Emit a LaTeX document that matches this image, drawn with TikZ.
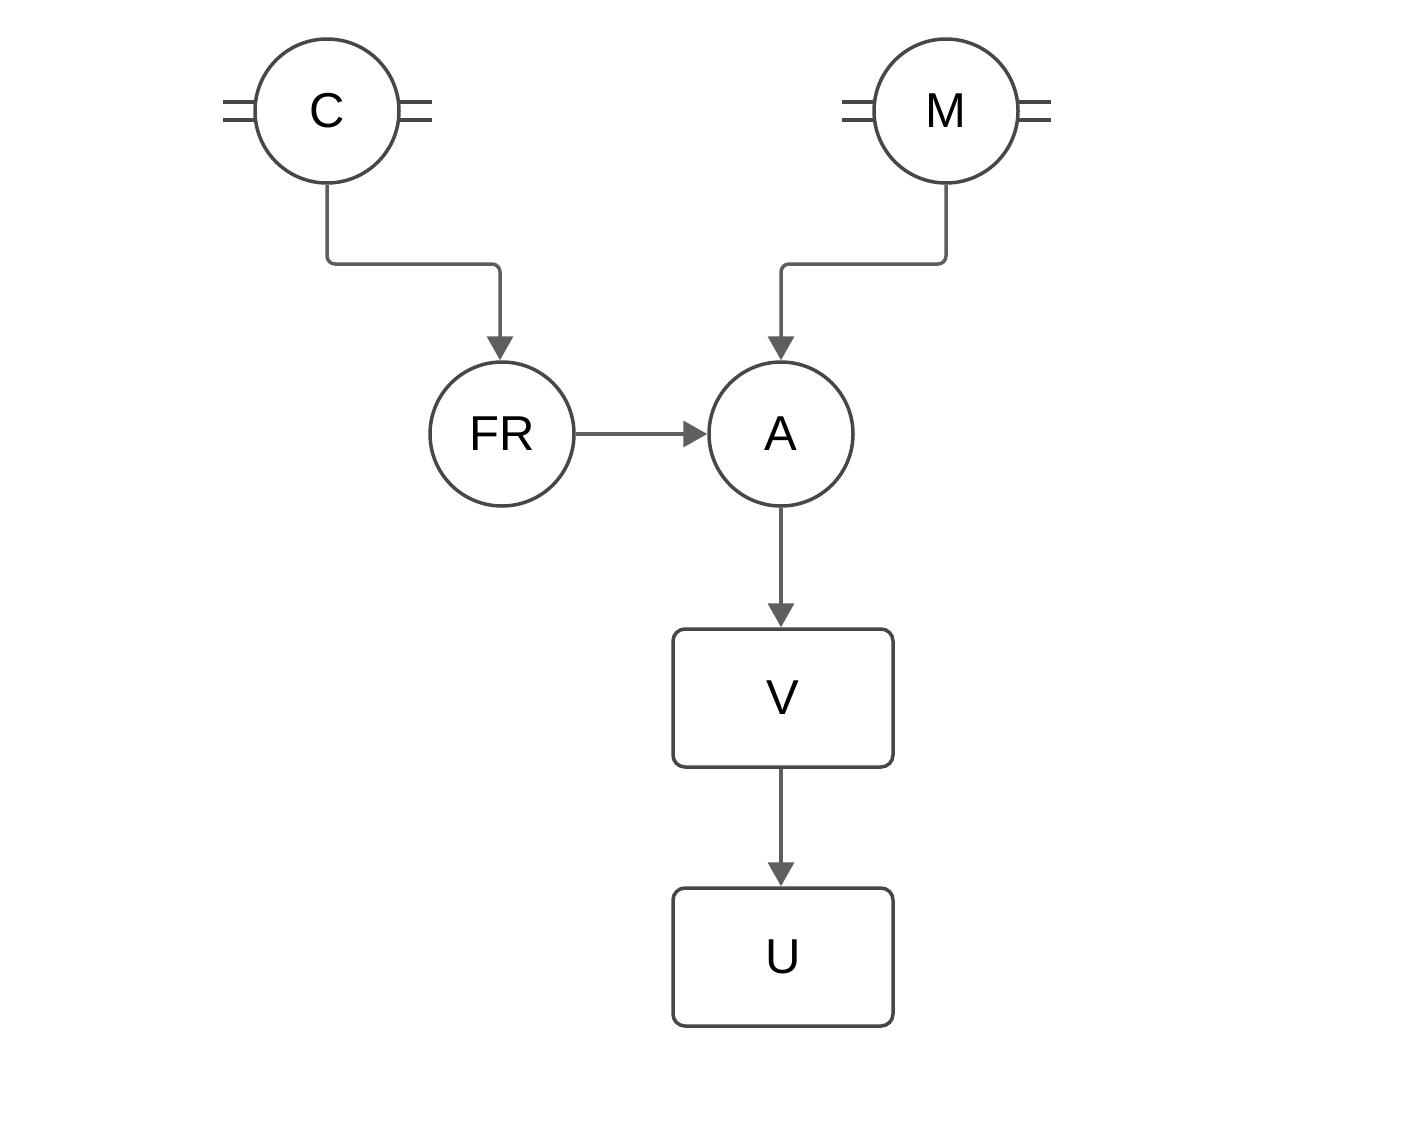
\documentclass[tikz,border=0pt]{standalone}
\usepackage{fontspec}
\setmainfont{Liberation Sans}
\usetikzlibrary{arrows.meta,calc}
\definecolor{edgec}{HTML}{5E5E5E}
\definecolor{nodec}{HTML}{474747}
\begin{document}
\begin{tikzpicture}[x=1pt,y=-1pt,
  circ/.style={circle,draw=nodec,line width=3.5pt,minimum size=144pt,inner sep=0pt,font=\fontsize{49}{58}\selectfont},
  boxn/.style={rectangle,rounded corners=12pt,draw=nodec,line width=3.5pt,minimum width=220pt,minimum height=138pt,inner sep=0pt,font=\fontsize{49}{58}\selectfont},
  conn/.style={draw=edgec,line width=3.5pt,-{Triangle[length=24pt,width=26pt]},rounded corners=8pt},
  bar/.style={draw=nodec,line width=3.5pt}]
\useasboundingbox[fill=white] (0,0) rectangle (1402,1122);
\node[circ] (C) at (327,111) {C};
\node[circ] (M) at (946,111) {M};
\node[circ] (FR) at (502,434) {FR};
\node[circ] (A) at (781,434) {A};
\node[boxn] (V) at (783,698) {V};
\node[boxn] (U) at (783,957) {U};
% double bars
\coordinate (cl1) at (223,102); \coordinate (cl2) at (223,120);
\coordinate (cr1) at (432,102); \coordinate (cr2) at (432,120);
\coordinate (ml1) at (842,102); \coordinate (ml2) at (842,120);
\coordinate (mr1) at (1051,102); \coordinate (mr2) at (1051,120);
\draw[bar] (cl1) -- ($(C.center)+(-71,-9)$);
\draw[bar] (cl2) -- ($(C.center)+(-71,9)$);
\draw[bar] (cr1) -- ($(C.center)+(71,-9)$);
\draw[bar] (cr2) -- ($(C.center)+(71,9)$);
\draw[bar] (ml1) -- ($(M.center)+(-71,-9)$);
\draw[bar] (ml2) -- ($(M.center)+(-71,9)$);
\draw[bar] (mr1) -- ($(M.center)+(71,-9)$);
\draw[bar] (mr2) -- ($(M.center)+(71,9)$);
% connectors
\coordinate (yb) at (0,264);
\coordinate (frin) at (500,0);
\draw[conn] (C.south) -- (C.south |- yb) -- (frin |- yb) -- (frin |- FR.north);
\draw[conn] (M.south) -- (M.south |- yb) -- (A.north |- yb) -- (A.north);
\draw[conn] (FR.east) -- (A.west);
\draw[conn] (A.south) -- (A.south |- V.north);
\draw[conn] (V.south -| A.south) -- (A.south |- U.north);
\end{tikzpicture}
\end{document}
